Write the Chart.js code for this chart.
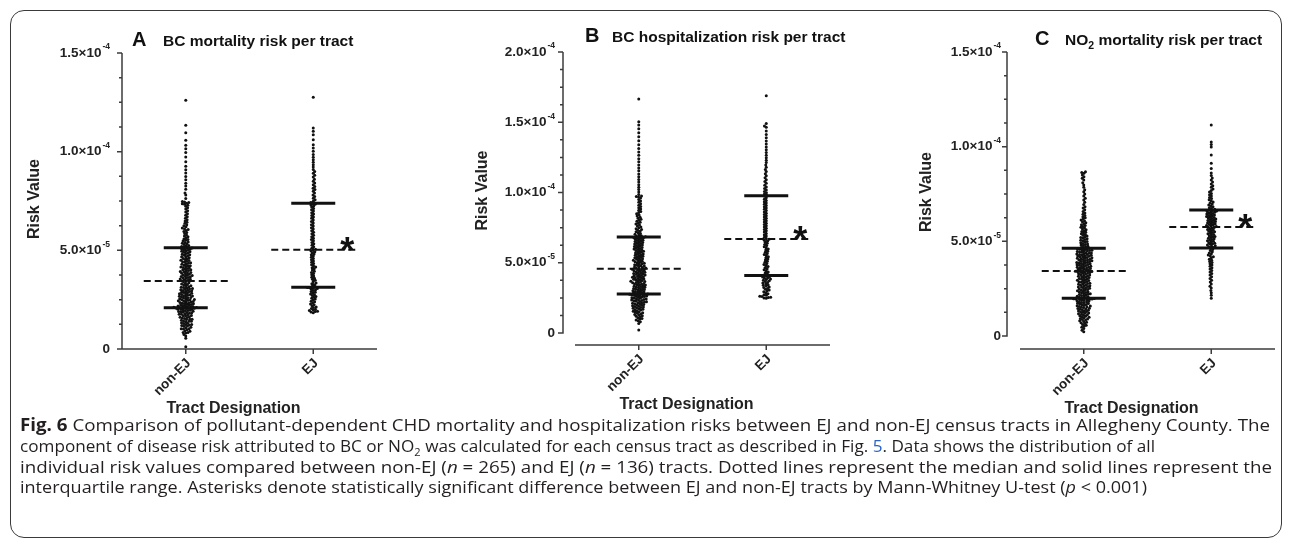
<!DOCTYPE html>
<html lang="en">
<head>
<meta charset="UTF-8">
<title>Fig. 6 risk per tract</title>
<script src="https://cdn.jsdelivr.net/npm/chart.js"></script>
<style>
  body { margin: 0; width: 1290px; height: 544px; background: #fff; position: relative; overflow: hidden; }
  #frame { position: absolute; left: 10px; top: 10px; width: 1270px; height: 526px; border: 1.5px solid #3a3a3a; border-radius: 14px; }
  canvas { position: absolute; top: 0; }
  #caption { position: absolute; left: 20px; top: 415px; font-family: 'Open Sans', sans-serif; font-size: 17px; color: #231f20; }
  #caption div { white-space: nowrap; height: 20.8px; line-height: 20.8px; transform-origin: 0 50%; }
  #caption span.w { display: inline-block; }
  .link { color: #2a62c9; }
</style>
</head>
<body>
<div id="frame"></div>
<canvas id="chartA" width="430" height="420" style="left:0px"></canvas>
<canvas id="chartB" width="430" height="420" style="left:430px"></canvas>
<canvas id="chartC" width="430" height="420" style="left:860px"></canvas>
<div id="caption">
  <div><span class="w"><b>Fig. 6</b> Comparison of pollutant-dependent CHD mortality and hospitalization risks between EJ and non-EJ census tracts in Allegheny County. The</span></div>
  <div><span class="w">component of disease risk attributed to BC or NO<sub style="font-size:11px">2</sub> was calculated for each census tract as described in Fig. <span class="link">5</span>. Data shows the distribution of all</span></div>
  <div><span class="w">individual risk values compared between non-EJ (<i>n</i> = 265) and EJ (<i>n</i> = 136) tracts. Dotted lines represent the median and solid lines represent the</span></div>
  <div><span class="w">interquartile range. Asterisks denote statistically significant difference between EJ and non-EJ tracts by Mann-Whitney U-test (<i>p</i> &lt; 0.001)</span></div>
</div>
<script>
    const categories = ['non-EJ', 'EJ'];

    // risk values per tract, in units of 1e-6
    const bcMortNonEJ = [1.2, 5.4, 6.6, 7.3,
        8.1, 8.4, 8.4, 9.0, 9.2, 9.7, 10.1, 10.3, 10.3, 10.8, 11.0, 11.5, 11.6, 11.9, 12.2, 12.4, 12.4, 12.9, 13.1, 13.3,
        13.8, 14.0, 14.0, 14.2, 14.6, 14.9, 15.1, 15.1, 15.5, 15.7, 16.0, 16.1, 16.4, 16.8, 16.9, 17.0, 17.3, 17.6, 17.6,
        17.9, 18.1, 18.2, 18.5, 18.7, 18.8, 19.0, 19.1, 19.4, 19.5, 19.6, 19.9, 20.0, 20.1, 20.3, 20.4, 20.6, 20.6, 20.8,
        20.9, 20.9, 21.0, 21.0,
        21.2, 21.3, 21.5, 21.6, 21.8, 22.0, 22.1, 22.3, 22.3, 22.6, 22.8, 22.9, 23.1, 23.2, 23.5, 23.6, 23.8, 24.0, 24.1,
        24.3, 24.4, 24.7, 24.9, 25.0, 25.1, 25.4, 25.5, 25.8, 26.0, 26.1, 26.3, 26.6, 26.7, 26.9, 27.0, 27.3, 27.5, 27.6,
        27.9, 28.0, 28.2, 28.5, 28.6, 28.8, 29.1, 29.2, 29.5, 29.7, 29.8, 30.0, 30.3, 30.5, 30.6, 30.9, 31.2, 31.3, 31.6,
        31.9, 32.1, 32.4, 32.7, 32.9, 33.2, 33.6, 33.9, 34.3,
        34.6, 34.9, 35.0, 35.3, 35.5, 35.8, 36.0, 36.2, 36.5, 36.7, 36.9, 37.2, 37.4, 37.5, 37.9, 38.1, 38.4, 38.6, 38.8,
        39.1, 39.3, 39.6, 39.8, 40.0, 40.1, 40.5, 40.8, 41.0, 41.3, 41.5, 41.8, 42.1, 42.2, 42.6, 42.9, 43.0, 43.4, 43.7,
        43.9, 44.2, 44.5, 44.8, 45.0, 45.3, 45.7, 45.9, 46.3, 46.6, 46.8, 47.2, 47.5, 47.8, 48.0, 48.4, 48.7, 49.0, 49.3,
        49.5, 49.8, 50.1, 50.3, 50.6, 50.8, 51.0, 51.2, 51.4,
        51.7, 52.0, 52.2, 52.5, 52.9, 53.3, 53.6, 54.0, 54.2, 54.7, 55.1, 55.5, 55.8, 56.4, 56.9, 57.3, 57.8, 58.5, 59.0,
        59.6, 60.1, 60.5, 61.0, 61.3, 61.9, 62.4, 63.0, 63.7, 64.2, 64.9, 65.5, 66.3, 67.0, 67.8, 68.5, 69.4, 70.1, 70.9,
        71.6, 72.3, 72.8, 73.3, 73.6, 73.9, 74.2, 74.5, 74.8,
        76.3, 78.0, 79.1, 80.9, 82.6, 84.0, 85.8, 87.4, 89.2, 90.8, 92.6, 94.9, 97.3, 99.6, 101.5, 103.2, 105.8, 109.6,
        113.4, 126.0];
    const bcMortEJ = [18.4, 18.7, 19.0, 19.1, 19.5, 19.8, 20.2, 20.5, 21.0, 21.3, 21.9, 22.4, 22.8, 23.3, 23.9, 24.2,
        24.8, 25.3, 25.7, 26.2, 26.6, 27.1, 27.5, 27.9, 28.4, 28.7, 29.1, 29.6, 29.9, 30.3, 30.6, 30.9, 31.1, 31.2,
        31.5, 32.0, 32.6, 33.1, 33.5, 34.2, 34.8, 35.3, 35.9, 36.4, 37.0, 37.6, 38.3, 38.8, 39.4, 40.0, 40.7, 41.2, 41.6,
        42.1, 42.7, 43.3, 43.9, 44.6, 45.2, 45.9, 46.5, 47.1, 47.7, 48.2, 48.8, 49.3, 49.8, 50.2,
        50.5, 51.1, 51.8, 52.6, 53.3, 54.0, 54.9, 55.5, 56.1, 56.9, 57.6, 58.4, 59.2, 59.9, 60.8, 61.5, 62.3, 63.0, 63.9,
        64.6, 65.4, 66.2, 66.9, 67.7, 68.4, 69.1, 69.9, 70.6, 71.2, 71.9, 72.5, 73.0, 73.4, 73.7,
        74.2, 74.9, 75.6, 76.4, 77.3, 78.1, 79.0, 80.0, 80.8, 81.5, 82.3, 83.2, 84.1, 85.0, 86.0, 87.1, 88.0, 89.0, 89.9,
        91.0, 92.2, 93.4, 94.6, 95.9, 97.2, 98.6, 100.2, 101.8, 103.5, 106.0, 108.6, 110.4, 112.0, 127.6];

    const bcHospNonEJ = [2.2, 6.8, 8.0, 8.7, 9.3, 9.9, 10.4, 10.8, 11.5, 11.9, 12.3, 12.8, 13.2, 13.6, 14.1, 14.5, 14.8,
        15.2, 15.5, 15.9, 16.3, 16.6, 16.9, 17.3, 17.6, 17.9, 18.2, 18.5, 18.9, 19.1, 19.4, 19.7, 20.0, 20.3, 20.6, 20.8,
        21.1, 21.4, 21.6, 21.9, 22.2, 22.4, 22.7, 22.9, 23.2, 23.4, 23.7, 23.9, 24.2, 24.4, 24.7, 24.9, 25.1, 25.4, 25.6,
        25.9, 26.1, 26.3, 26.6, 26.8, 27.0, 27.2, 27.3, 27.5, 27.6, 27.7,
        28.0, 28.3, 28.5, 28.8, 29.1, 29.3, 29.6, 29.9, 30.1, 30.4, 30.7, 30.9, 31.2, 31.5, 31.7, 32.0, 32.3, 32.5, 32.8,
        33.1, 33.3, 33.6, 33.9, 34.1, 34.4, 34.7, 34.9, 35.2, 35.5, 35.8, 36.0, 36.3, 36.6, 36.8, 37.1, 37.4, 37.7, 37.9,
        38.2, 38.5, 38.8, 39.0, 39.3, 39.6, 39.9, 40.1, 40.4, 40.7, 41.0, 41.2, 41.5, 41.8, 42.1, 42.3, 42.6, 42.9, 43.2,
        43.4, 43.7, 44.0, 44.3, 44.6, 44.9, 45.1, 45.4, 45.7,
        46.0, 46.2, 46.6, 46.9, 47.3, 47.6, 47.9, 48.3, 48.6, 49.0, 49.3, 49.7, 50.0, 50.4, 50.7, 51.1, 51.4, 51.8, 52.1,
        52.5, 52.8, 53.2, 53.5, 53.9, 54.2, 54.6, 54.9, 55.3, 55.6, 56.0, 56.3, 56.7, 57.0, 57.4, 57.7, 58.1, 58.4, 58.8,
        59.1, 59.5, 59.8, 60.2, 60.5, 60.9, 61.2, 61.6, 61.9, 62.3, 62.6, 63.0, 63.3, 63.7, 64.0, 64.4, 64.7, 65.1, 65.4,
        65.8, 66.1, 66.5, 66.8, 67.2, 67.5, 67.8, 68.0, 68.2,
        68.5, 68.9, 69.2, 69.8, 70.3, 70.9, 71.4, 72.0, 72.5, 73.1, 73.7, 74.2, 74.9, 75.5, 76.2, 76.8, 77.5, 78.1, 78.8,
        79.5, 80.2, 80.9, 81.7, 82.4, 83.2, 84.0, 84.8, 85.7, 86.5, 87.4, 88.3, 89.2, 90.1, 91.0, 92.0, 93.0, 94.0, 95.0,
        96.0, 96.8, 97.2, 97.5, 98.5, 100.3, 102.1, 103.8, 105.6, 107.5, 109.3, 111.2, 113.2, 115.4, 117.5, 119.6, 121.8,
        124.1, 126.5, 128.9, 131.4, 134.0, 136.8, 139.7, 142.6, 145.3, 148.0, 150.4, 166.5];
    const bcHospEJ = [24.7, 25.0, 25.3, 25.5, 25.9, 26.2, 26.8, 27.3, 27.9, 28.6, 29.3, 30.0, 30.6, 31.1, 31.7, 32.3,
        32.8, 33.4, 33.9, 34.4, 35.0, 35.5, 36.0, 36.6, 37.1, 37.5, 38.0, 38.5, 38.9, 39.4, 39.8, 40.2, 40.6, 40.9,
        41.3, 42.0, 42.8, 43.5, 44.3, 45.0, 45.8, 46.5, 47.3, 48.0, 48.8, 49.5, 50.3, 51.1, 51.9, 52.7, 53.5, 54.3, 55.1,
        55.8, 56.6, 57.4, 58.2, 59.0, 59.8, 60.6, 61.4, 62.2, 63.0, 63.8, 64.6, 65.4, 66.1, 66.7,
        67.3, 68.2, 69.1, 70.0, 70.9, 71.8, 72.7, 73.6, 74.5, 75.4, 76.3, 77.2, 78.1, 79.0, 79.9, 80.8, 81.7, 82.6, 83.5,
        84.4, 85.3, 86.2, 87.1, 88.0, 88.9, 89.8, 90.7, 91.6, 92.5, 93.4, 94.3, 95.2, 96.2, 97.3,
        98.2, 99.0, 99.9, 100.8, 101.8, 102.9, 104.0, 105.2, 106.5, 107.8, 109.1, 110.5, 111.9, 113.4, 114.9, 116.4,
        118.0, 119.6, 121.3, 123.0, 124.8, 126.6, 128.5, 130.4, 132.4, 134.5, 136.7, 139.0, 141.3, 143.8, 146.4, 147.4,
        149.1, 168.9];

    const no2MortNonEJ = [2.3, 3.1, 4.0, 4.6, 5.2, 5.7, 6.1, 6.6, 7.0, 7.3, 7.7, 8.0, 8.4, 8.7, 9.0, 9.3, 9.6, 9.9, 10.2,
        10.4, 10.7, 11.0, 11.2, 11.5, 11.7, 12.0, 12.2, 12.5, 12.7, 12.9, 13.2, 13.4, 13.6, 13.9, 14.1, 14.3, 14.5, 14.7,
        15.0, 15.2, 15.4, 15.6, 15.8, 16.0, 16.2, 16.5, 16.7, 16.9, 17.1, 17.3, 17.5, 17.7, 17.9, 18.1, 18.3, 18.5, 18.7,
        18.9, 19.1, 19.3, 19.4, 19.5, 19.6, 19.7, 19.8, 19.9,
        20.1, 20.3, 20.5, 20.7, 21.0, 21.2, 21.4, 21.6, 21.9, 22.1, 22.3, 22.5, 22.8, 23.0, 23.2, 23.4, 23.7, 23.9, 24.1,
        24.3, 24.6, 24.8, 25.0, 25.2, 25.5, 25.7, 25.9, 26.1, 26.4, 26.6, 26.8, 27.0, 27.3, 27.5, 27.7, 27.9, 28.2, 28.4,
        28.6, 28.8, 29.1, 29.3, 29.5, 29.7, 30.0, 30.2, 30.4, 30.6, 30.9, 31.1, 31.3, 31.5, 31.8, 32.0, 32.2, 32.4, 32.7,
        32.9, 33.1, 33.3, 33.5, 33.7, 33.8, 34.0, 34.1, 34.2,
        34.5, 34.7, 34.9, 35.0, 35.2, 35.4, 35.6, 35.8, 35.9, 36.1, 36.3, 36.5, 36.7, 36.8, 37.0, 37.2, 37.4, 37.6, 37.7,
        37.9, 38.1, 38.3, 38.5, 38.6, 38.8, 39.0, 39.2, 39.4, 39.5, 39.7, 39.9, 40.1, 40.3, 40.4, 40.6, 40.8, 41.0, 41.2,
        41.3, 41.5, 41.7, 41.9, 42.1, 42.2, 42.4, 42.6, 42.8, 43.0, 43.1, 43.3, 43.5, 43.7, 43.9, 44.0, 44.2, 44.4, 44.6,
        44.8, 44.9, 45.1, 45.3, 45.5, 45.7, 45.8, 46.0, 46.2,
        46.5, 46.8, 47.1, 47.4, 47.7, 48.0, 48.3, 48.6, 48.9, 49.3, 49.6, 49.9, 50.3, 50.6, 51.0, 51.3, 51.7, 52.0, 52.4,
        52.8, 53.2, 53.6, 54.0, 54.4, 54.8, 55.2, 55.6, 56.1, 56.5, 57.0, 57.4, 57.9, 58.3, 58.8, 59.3, 59.8, 60.3, 60.8,
        61.3, 61.8, 62.4, 63.0, 63.6, 64.3, 65.0, 65.8, 66.7, 67.6, 68.3, 69.5, 70.6, 71.8, 72.7, 73.9, 75.0, 76.2, 77.3,
        78.5, 79.8, 80.9, 82.4, 83.3, 84.1, 85.0, 85.9, 86.3, 86.8];
    const no2MortEJ = [19.9, 21.5, 22.8, 24.0, 25.3, 26.3, 27.4, 28.5, 29.5, 30.4, 31.3, 32.2, 33.0, 33.8, 34.6, 35.4,
        36.1, 36.8, 37.5, 38.2, 38.8, 39.4, 40.0, 40.6, 41.2, 41.8, 42.3, 42.8, 43.4, 43.9, 44.5, 45.1, 45.7, 46.3,
        46.7, 47.0, 47.4, 47.7, 48.0, 48.4, 48.7, 49.0, 49.3, 49.7, 50.0, 50.3, 50.6, 51.0, 51.3, 51.6, 52.0, 52.3, 52.6,
        53.0, 53.3, 53.6, 54.0, 54.3, 54.6, 55.0, 55.3, 55.6, 56.0, 56.3, 56.6, 57.0, 57.3, 57.5,
        57.8, 58.1, 58.3, 58.6, 58.9, 59.1, 59.4, 59.7, 59.9, 60.2, 60.5, 60.7, 61.0, 61.3, 61.5, 61.8, 62.1, 62.3, 62.6,
        62.9, 63.1, 63.4, 63.7, 63.9, 64.2, 64.5, 64.7, 65.0, 65.3, 65.5, 65.8, 66.0, 66.3, 66.5,
        66.9, 67.3, 67.8, 68.2, 68.7, 69.2, 69.7, 70.2, 70.8, 71.4, 72.0, 72.6, 73.2, 73.9, 74.6, 75.3, 76.0, 76.8, 77.6,
        78.5, 79.4, 80.3, 81.3, 82.4, 83.5, 84.8, 86.1, 88.5, 91.2, 95.6, 99.8, 101.2, 102.5, 111.5];

    // median and interquartile range [non-EJ, EJ]
    const bcMortMedian = [34.5, 50.3], bcMortQ1 = [20.9, 31.3], bcMortQ3 = [51.3, 73.8];
    const bcHospMedian = [45.8, 66.9], bcHospQ1 = [27.8, 41.0], bcHospQ3 = [68.3, 97.7];
    const no2MortMedian = [34.3, 57.6], no2MortQ1 = [19.9, 46.5], no2MortQ3 = [46.3, 66.6];

    const yTicksA = [0, 50, 100, 150];
    const yTicksB = [0, 50, 100, 150, 200];
    const yTicksC = [0, 50, 100, 150];
    const minorStep = 12.5;

    const FONT = "'Liberation Sans', Arial, sans-serif";

    const panels = [
        { id: 'chartA', letter: 'A', title: [['BC mortality risk per tract', 0]], groups: [bcMortNonEJ, bcMortEJ],
          median: bcMortMedian, q1: bcMortQ1, q3: bcMortQ3, ticks: yTicksA,
          pad: { left: 122, right: 53, top: 53, bottom: 71 }, gap: 0, labelGap: 12,
          titleDy: -7, letterDx: 10, titleDx: 41, yTitleDx: -87 },
        { id: 'chartB', letter: 'B', title: [['BC hospitalization risk per tract', 0]], groups: [bcHospNonEJ, bcHospEJ],
          median: bcHospMedian, q1: bcHospQ1, q3: bcHospQ3, ticks: yTicksB,
          pad: { left: 145, right: 30, top: 52, bottom: 87 }, gap: 12, labelGap: 8,
          titleDy: -10, letterDx: 10, titleDx: 37, yTitleDx: -92 },
        { id: 'chartC', letter: 'C', title: [['NO', 0], ['2', 1], [' mortality risk per tract', 0]], groups: [no2MortNonEJ, no2MortEJ],
          median: no2MortMedian, q1: no2MortQ1, q3: no2MortQ3, ticks: yTicksC,
          pad: { left: 160, right: 15, top: 52, bottom: 84 }, gap: 13, labelGap: 6,
          titleDy: -7, letterDx: 15, titleDx: 45, yTitleDx: -93 }
    ];

    function tickParts(v) {
        if (v === 0) return ['0', ''];
        const x = v * 1e-6;
        const e = Math.floor(Math.log10(x) + 1e-9);
        return [(x / Math.pow(10, e)).toFixed(1) + '×10', String(e)];
    }

    function decor(p) {
        return {
            id: 'decor',
            afterDatasetsDraw(chart) {
                const ctx = chart.ctx, xs = chart.scales.x, ys = chart.scales.y, a = chart.chartArea;
                const ax = a.left - p.gap, ay = a.bottom + p.gap;
                const yMax = p.ticks[p.ticks.length - 1];
                ctx.save();
                ctx.strokeStyle = '#3c3c3c';
                ctx.lineWidth = 1.5;
                // y axis with major and minor ticks
                ctx.beginPath();
                ctx.moveTo(ax, ys.getPixelForValue(yMax));
                ctx.lineTo(ax, ys.getPixelForValue(0) + 0.75);
                for (let v = 0; v <= yMax; v += minorStep) {
                    const y = ys.getPixelForValue(v);
                    const major = p.ticks.includes(v);
                    ctx.moveTo(ax - (major ? 5 : 3), y);
                    ctx.lineTo(ax, y);
                }
                // x axis
                ctx.moveTo(xs.getPixelForValue(-0.5), ay);
                ctx.lineTo(xs.getPixelForValue(1.5), ay);
                categories.forEach((c, i) => {
                    const x = xs.getPixelForValue(i);
                    ctx.moveTo(x, ay);
                    ctx.lineTo(x, ay + 5);
                });
                ctx.stroke();

                // median and IQR
                ctx.strokeStyle = '#111';
                categories.forEach((c, i) => {
                    const x = xs.getPixelForValue(i);
                    const yq1 = ys.getPixelForValue(p.q1[i]), yq3 = ys.getPixelForValue(p.q3[i]);
                    const ym = ys.getPixelForValue(p.median[i]);
                    ctx.lineWidth = 1.3;
                    ctx.beginPath();
                    ctx.moveTo(x, yq1);
                    ctx.lineTo(x, yq3);
                    ctx.stroke();
                    ctx.lineWidth = 3;
                    ctx.beginPath();
                    ctx.moveTo(x - 22, yq1); ctx.lineTo(x + 22, yq1);
                    ctx.moveTo(x - 22, yq3); ctx.lineTo(x + 22, yq3);
                    ctx.stroke();
                    ctx.lineWidth = 2;
                    ctx.setLineDash([7, 4]);
                    ctx.beginPath();
                    ctx.moveTo(x - 42, ym); ctx.lineTo(x + 42, ym);
                    ctx.stroke();
                    ctx.setLineDash([]);
                });
                // significance asterisk on EJ median
                ctx.fillStyle = '#111';
                ctx.font = 'bold 36px ' + FONT;
                ctx.textAlign = 'center';
                ctx.textBaseline = 'alphabetic';
                ctx.fillText('*', xs.getPixelForValue(1) + 34, ys.getPixelForValue(p.median[1]) + 13);

                // y tick labels with superscript exponent
                ctx.fillStyle = '#222';
                ctx.textAlign = 'left';
                p.ticks.forEach(v => {
                    const [base, exp] = tickParts(v);
                    const y = ys.getPixelForValue(v);
                    ctx.font = 'bold 13.5px ' + FONT;
                    const wb = ctx.measureText(base).width;
                    ctx.font = 'bold 8.5px ' + FONT;
                    const we = exp ? ctx.measureText(exp).width + 1 : 0;
                    const x0 = ax - p.labelGap - wb - we;
                    ctx.font = 'bold 13.5px ' + FONT;
                    ctx.textBaseline = 'middle';
                    ctx.fillText(base, x0, y);
                    if (exp) {
                        ctx.font = 'bold 8.5px ' + FONT;
                        ctx.fillText(exp, x0 + wb + 1, y - 6);
                    }
                });

                // category labels, rotated
                ctx.font = 'bold 13.5px ' + FONT;
                ctx.textAlign = 'right';
                ctx.textBaseline = 'middle';
                categories.forEach((c, i) => {
                    ctx.save();
                    ctx.translate(xs.getPixelForValue(i) + 3, ay + 12);
                    ctx.rotate(-Math.PI / 4);
                    ctx.fillText(c, 0, 0);
                    ctx.restore();
                });

                // axis titles
                ctx.font = 'bold 16px ' + FONT;
                ctx.textAlign = 'center';
                ctx.fillText('Tract Designation', (a.left + a.right) / 2 - 16, ay + 60);
                ctx.save();
                ctx.translate(a.left + p.yTitleDx, (a.top + a.bottom) / 2 - 2);
                ctx.rotate(-Math.PI / 2);
                ctx.fillText('Risk Value', 0, 0);
                ctx.restore();

                // panel letter and title
                ctx.fillStyle = '#111';
                ctx.textAlign = 'left';
                ctx.textBaseline = 'alphabetic';
                ctx.font = 'bold 20px ' + FONT;
                ctx.fillText(p.letter, a.left + p.letterDx, a.top + p.titleDy);
                let tx = a.left + p.titleDx;
                p.title.forEach(([t, sub]) => {
                    ctx.font = (sub ? 'bold 10.5px ' : 'bold 15.5px ') + FONT;
                    ctx.fillText(t, tx, a.top + p.titleDy + (sub ? 4 : 0));
                    tx += ctx.measureText(t).width;
                });
                ctx.restore();
            }
        };
    }

    // spread points of one group sideways so they do not overlap (beeswarm)
    function swarm(chart, p) {
        const xs = chart.scales.x, ys = chart.scales.y;
        const unit = xs.getPixelForValue(1) - xs.getPixelForValue(0);
        const d = 2.3;
        p.groups.forEach((vals, gi) => {
            const pts = vals.map(v => ({ v: v, y: ys.getPixelForValue(v) })).sort((m, n) => n.y - m.y);
            const placed = [];
            pts.forEach((pt, k) => {
                const near = placed.filter(q => Math.abs(q.y - pt.y) < d);
                const cands = [0];
                near.forEach(q => {
                    const dx = Math.sqrt(d * d - (q.y - pt.y) * (q.y - pt.y));
                    cands.push(q.x + dx, q.x - dx);
                });
                cands.sort((m, n) => Math.abs(m) - Math.abs(n) || (k % 2 ? m - n : n - m));
                pt.x = cands.find(c => near.every(q => (q.x - c) * (q.x - c) + (q.y - pt.y) * (q.y - pt.y) >= d * d - 0.01));
                placed.push(pt);
            });
            chart.data.datasets[gi].data = placed.map(pt => ({ x: gi + pt.x / unit, y: pt.v }));
        });
        chart.update('none');
    }

    panels.forEach(p => {
        const chart = new Chart(document.getElementById(p.id), {
            type: 'scatter',
            data: {
                datasets: p.groups.map((g, gi) => ({
                    label: categories[gi],
                    data: g.map(v => ({ x: gi, y: v })),
                    pointRadius: 1.5,
                    pointHoverRadius: 1.5,
                    backgroundColor: '#111',
                    borderWidth: 0,
                    clip: false
                }))
            },
            options: {
                responsive: false,
                animation: false,
                layout: { padding: p.pad },
                plugins: { legend: { display: false }, tooltip: { enabled: false } },
                scales: {
                    x: { type: 'linear', min: -0.5, max: 1.5, display: false },
                    y: { min: 0, max: p.ticks[p.ticks.length - 1], display: false }
                }
            },
            plugins: [decor(p)]
        });
        swarm(chart, p);
    });

    // fit each caption line to its width in the figure
    const captionWidths = [1250, 1135, 1252, 1127];
    document.fonts.ready.then(() => {
        document.querySelectorAll('#caption div').forEach((el, i) => {
            const w = el.querySelector('span.w').getBoundingClientRect().width;
            el.style.transform = 'scaleX(' + (captionWidths[i] / w) + ')';
        });
    });
</script>
</body>
</html>
